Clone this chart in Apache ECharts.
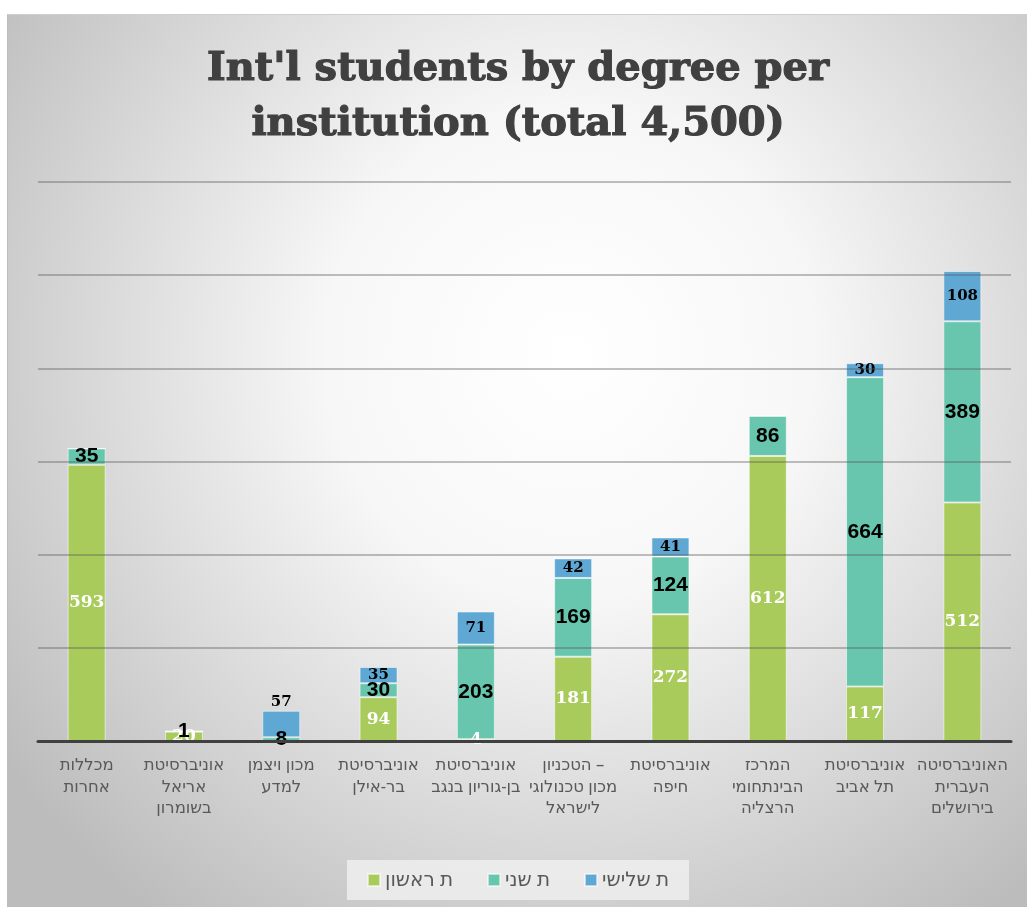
<!DOCTYPE html>
<html>
<head>
<meta charset="utf-8">
<script src="https://cdn.jsdelivr.net/npm/echarts@6/dist/echarts.min.js"></script>
<style>
html,body{margin:0;padding:0;background:#ffffff;width:1027px;height:907px;overflow:hidden;}
#chart{position:absolute;left:7px;top:14px;width:1020px;height:893px;border-left:1px solid #bdbdbd;border-top:1px solid #cfcfcf;}
</style>
</head>
<body>
<div id="chart"></div>
<script>
const categories = [
  "מכללות\nאחרות",
  "אוניברסיטת\nאריאל\nבשומרון",
  "מכון ויצמן\nלמדע",
  "אוניברסיטת\nבר-אילן",
  "אוניברסיטת\nבן-גוריון בנגב",
  "הטכניון –\nמכון טכנולוגי\nלישראל",
  "אוניברסיטת\nחיפה",
  "המרכז\nהבינתחומי\nהרצליה",
  "אוניברסיטת\nתל אביב",
  "האוניברסיטה\nהעברית\nבירושלים"
];
const seriesNames = ["ת ראשון", "ת שני", "ת שלישי"];
const firstDegree  = [593, 20, 0, 94, 4, 181, 272, 612, 117, 512];
const secondDegree = [35, 1, 8, 30, 203, 169, 124, 86, 664, 389];
const thirdDegree  = [0, 0, 57, 35, 71, 42, 41, 0, 30, 108];
const yTicks = { min: 0, max: 1200, interval: 200 };

const chart = echarts.init(document.getElementById('chart'));
const fmt = p => (p.value ? String(p.value) : '');
const border = { borderColor: 'rgba(255,255,255,0.55)', borderWidth: 1 };

// third-degree bar whose lower segments are almost empty: its label sits on top, as in the original
const thirdData = thirdDegree.map((v, i) =>
  (firstDegree[i] + secondDegree[i] < 10 && v > 0) ? { value: v, label: { position: 'top', distance: 1 } } : v);

chart.setOption({
  backgroundColor: {
    type: 'radial', x: 0.55, y: 0.38, r: 0.78,
    colorStops: [
      { offset: 0, color: '#ffffff' },
      { offset: 0.35, color: '#f7f7f7' },
      { offset: 1, color: '#bcbcbc' }
    ]
  },
  title: {
    text: "Int'l students by degree per\ninstitution (total 4,500)",
    left: 'center',
    top: 22,
    textStyle: {
      fontFamily: 'DejaVu Serif',
      fontWeight: 'bold',
      fontSize: 40,
      lineHeight: 55,
      color: '#404040',
      textBorderColor: '#404040',
      textBorderWidth: 1.2
    }
  },
  legend: {
    data: seriesNames,
    left: 'center',
    bottom: 8,
    icon: 'rect',
    itemWidth: 12,
    itemHeight: 12,
    itemGap: 34,
    padding: [10, 20],
    backgroundColor: 'rgba(238,238,238,0.85)',
    textStyle: { fontFamily: 'Noto Sans, DejaVu Sans', fontSize: 20, color: '#595959' }
  },
  grid: { left: 30, right: 17, top: 167, bottom: 167, containLabel: false },
  xAxis: {
    type: 'category',
    data: categories,
    z: 3,
    axisLine: { lineStyle: { color: '#404040', width: 3 } },
    axisTick: { show: false },
    axisLabel: {
      interval: 0,
      margin: 14,
      fontFamily: 'Noto Sans, DejaVu Sans',
      fontSize: 16.5,
      lineHeight: 21.5,
      color: '#595959'
    }
  },
  yAxis: {
    type: 'value',
    min: yTicks.min, max: yTicks.max, interval: yTicks.interval,
    z: 3,
    axisLabel: { show: false },
    axisLine: { show: false },
    axisTick: { show: false },
    splitLine: { lineStyle: { color: 'rgba(90,90,90,0.5)', width: 1.5 } }
  },
  series: [
    {
      name: seriesNames[0], type: 'bar', stack: 'total', data: firstDegree,
      barWidth: 38,
      itemStyle: Object.assign({ color: '#a9cb5c' }, border),
      label: { show: true, position: 'inside', formatter: fmt, color: '#ffffff',
        fontFamily: 'DejaVu Serif', fontWeight: 'bold', fontSize: 17 }
    },
    {
      name: seriesNames[1], type: 'bar', stack: 'total', data: secondDegree,
      barWidth: 38,
      itemStyle: Object.assign({ color: '#67c6ad' }, border),
      label: { show: true, position: 'inside', formatter: fmt, color: '#000000',
        fontFamily: 'Liberation Sans', fontWeight: 'bold', fontSize: 21 }
    },
    {
      name: seriesNames[2], type: 'bar', stack: 'total', data: thirdData,
      barWidth: 38,
      itemStyle: Object.assign({ color: '#5fa8d3' }, border),
      label: { show: true, position: 'inside', formatter: fmt, color: '#000000',
        fontFamily: 'DejaVu Serif', fontWeight: 'bold', fontSize: 15 }
    }
  ]
});
</script>
</body>
</html>
